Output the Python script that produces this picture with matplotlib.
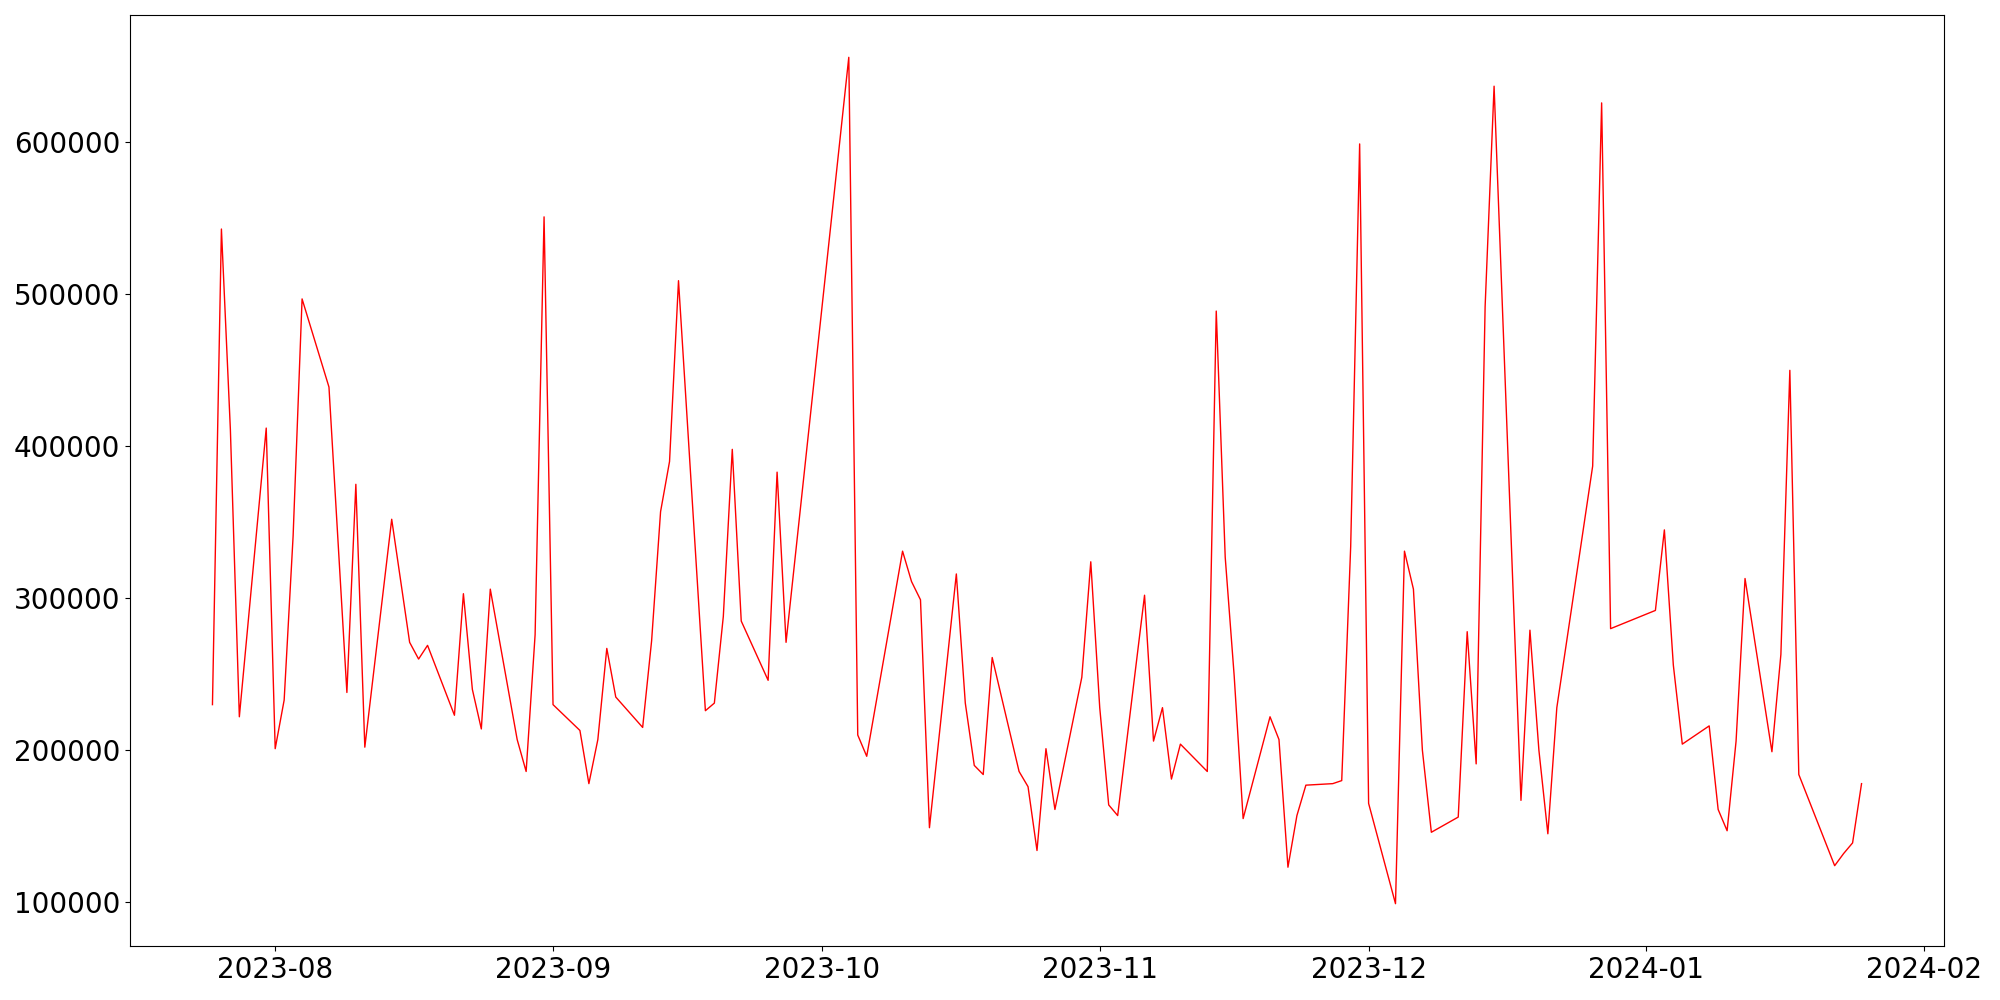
import matplotlib
matplotlib.use("Agg")
import matplotlib.pyplot as plt
import pandas as pd

# daily values (business days, gaps where the line skips)
dates = [
    "2023-07-25", "2023-07-26", "2023-07-27", "2023-07-28", "2023-07-31",
    "2023-08-01", "2023-08-02", "2023-08-03", "2023-08-04", "2023-08-07",
    "2023-08-09", "2023-08-10", "2023-08-11", "2023-08-14", "2023-08-16",
    "2023-08-17", "2023-08-18", "2023-08-21", "2023-08-22", "2023-08-23",
    "2023-08-24", "2023-08-25", "2023-08-28", "2023-08-29", "2023-08-30",
    "2023-08-31", "2023-09-01", "2023-09-04", "2023-09-05", "2023-09-06",
    "2023-09-07", "2023-09-08", "2023-09-11", "2023-09-12", "2023-09-13",
    "2023-09-14", "2023-09-15", "2023-09-18", "2023-09-19", "2023-09-20",
    "2023-09-21", "2023-09-22", "2023-09-25", "2023-09-26", "2023-09-27",
    "2023-10-04", "2023-10-05", "2023-10-06", "2023-10-10", "2023-10-11",
    "2023-10-12", "2023-10-13", "2023-10-16", "2023-10-17", "2023-10-18",
    "2023-10-19", "2023-10-20", "2023-10-23", "2023-10-24", "2023-10-25",
    "2023-10-26", "2023-10-27", "2023-10-30", "2023-10-31", "2023-11-01",
    "2023-11-02", "2023-11-03", "2023-11-06", "2023-11-07", "2023-11-08",
    "2023-11-09", "2023-11-10", "2023-11-13", "2023-11-14", "2023-11-15",
    "2023-11-16", "2023-11-17", "2023-11-20", "2023-11-21", "2023-11-22",
    "2023-11-23", "2023-11-24", "2023-11-27", "2023-11-28", "2023-11-29",
    "2023-11-30", "2023-12-01", "2023-12-04", "2023-12-05", "2023-12-06",
    "2023-12-07", "2023-12-08", "2023-12-11", "2023-12-12", "2023-12-13",
    "2023-12-14", "2023-12-15", "2023-12-18", "2023-12-19", "2023-12-20",
    "2023-12-21", "2023-12-22", "2023-12-26", "2023-12-27", "2023-12-28",
    "2024-01-02", "2024-01-03", "2024-01-04", "2024-01-05", "2024-01-08",
    "2024-01-09", "2024-01-10", "2024-01-11", "2024-01-12", "2024-01-15",
    "2024-01-16", "2024-01-17", "2024-01-18", "2024-01-22", "2024-01-23",
    "2024-01-24", "2024-01-25",
]

values = [
    230000, 543000, 411000, 222000, 412000,
    201000, 233000, 341000, 497000, 439000,
    238000, 375000, 202000, 352000, 271000,
    260000, 269000, 223000, 303000, 240000,
    214000, 306000, 207000, 186000, 276000,
    551000, 230000, 213000, 178000, 207000,
    267000, 235000, 215000, 272000, 357000,
    390000, 509000, 226000, 231000, 288000,
    398000, 285000, 246000, 383000, 271000,
    656000, 210000, 196000, 331000, 311000,
    299000, 149000, 316000, 231000, 190000,
    184000, 261000, 186000, 176000, 134000,
    201000, 161000, 248000, 324000, 228000,
    164000, 157000, 302000, 206000, 228000,
    181000, 204000, 186000, 489000, 327000,
    249000, 155000, 222000, 207000, 123000,
    157000, 177000, 178000, 180000, 334000,
    599000, 165000, 99000, 331000, 306000,
    200000, 146000, 156000, 278000, 191000,
    492000, 637000, 167000, 279000, 200000,
    145000, 228000, 387000, 626000, 280000,
    292000, 345000, 256000, 204000, 216000,
    161000, 147000, 206000, 313000, 199000,
    263000, 450000, 184000, 124000, 132000,
    139000, 178000,
]

series = pd.Series(values, index=pd.to_datetime(dates))

fig = plt.figure(figsize=(20, 10), dpi=100)
ax = fig.add_subplot(111)
ax.plot(series.index, series.values, color="red", linewidth=1)
ax.tick_params(axis="both", labelsize=20)
fig.subplots_adjust(left=0.065, right=0.972, bottom=0.054, top=0.985)

plt.savefig("out.png")
